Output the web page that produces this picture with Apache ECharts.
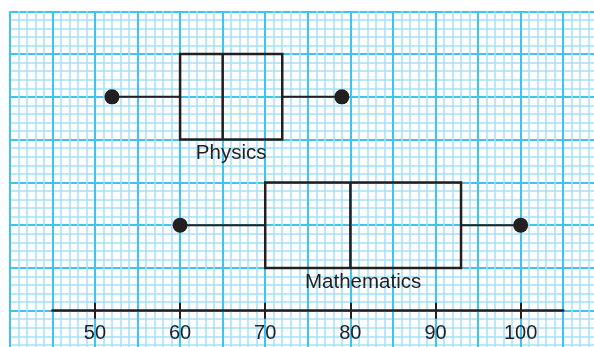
<!DOCTYPE html>
<html>
<head>
<meta charset="utf-8">
<script src="https://cdn.jsdelivr.net/npm/echarts@6/dist/echarts.min.js"></script>
<style>
html,body{margin:0;padding:0;background:#fff;}
#c{width:594px;height:347px;}
</style>
</head>
<body>
<div id="c"></div>
<script>
// ---- data ----
var subjects = ['Physics', 'Mathematics'];
var minimums = [52, 60];
var lowerQuartiles = [60, 70];
var medians = [65, 80];
var upperQuartiles = [72, 93];
var maximums = [79, 100];
var tickLabels = [50, 60, 70, 80, 90, 100];

var INK = '#231f20';
var chart = echarts.init(document.getElementById('c'), null, {renderer: 'canvas'});

var boxData = subjects.map(function (s, i) {
  return [i, minimums[i], lowerQuartiles[i], medians[i], upperQuartiles[i], maximums[i]];
});

function renderBox(params, api) {
  var cat = api.value(0);
  var pMin = api.coord([api.value(1), cat]);
  var pQ1 = api.coord([api.value(2), cat]);
  var pMed = api.coord([api.value(3), cat]);
  var pQ3 = api.coord([api.value(4), cat]);
  var pMax = api.coord([api.value(5), cat]);
  var band = api.size([0, 1])[1];
  var h = band * 2 / 3;
  var cy = pMed[1];
  var top = cy - h / 2, bottom = cy + h / 2;
  var lineStyle = {stroke: INK, lineWidth: 2.5, fill: null};
  var whiskerStyle = {stroke: INK, lineWidth: 2};
  return {
    type: 'group',
    children: [
      {type: 'line', shape: {x1: pMin[0], y1: cy, x2: pQ1[0], y2: cy}, style: whiskerStyle},
      {type: 'line', shape: {x1: pQ3[0], y1: cy, x2: pMax[0], y2: cy}, style: whiskerStyle},
      {type: 'rect', shape: {x: pQ1[0], y: top, width: pQ3[0] - pQ1[0], height: h}, style: lineStyle},
      {type: 'line', shape: {x1: pMed[0], y1: top, x2: pMed[0], y2: bottom}, style: {stroke: INK, lineWidth: 2.5}},
      {type: 'circle', shape: {cx: pMin[0], cy: cy, r: 7.5}, style: {fill: INK}},
      {type: 'circle', shape: {cx: pMax[0], cy: cy, r: 7.5}, style: {fill: INK}},
      {type: 'text', style: {
        text: subjects[params.dataIndex],
        x: (pQ1[0] + pQ3[0]) / 2, y: bottom + 3.5,
        align: 'center', verticalAlign: 'top',
        fontSize: 20.5, fontFamily: 'Liberation Sans, Arial, sans-serif', fill: INK
      }}
    ]
  };
}

var UX = 8.514, UY = 8.554, LEFT = 9.8, TOP = 11.3;

var option = {
  backgroundColor: '#ffffff',
  animation: false,
  grid: [
    {left: LEFT, top: TOP, width: 70 * UX, height: 40 * UY, containLabel: false, outerBoundsMode: 'none'},
    {left: LEFT, top: TOP + 2.5 * UY, width: 70 * UX, height: 30 * UY, containLabel: false, outerBoundsMode: 'none'},
    {left: LEFT + 5 * UX, top: TOP + 35 * UY - 10, width: 60 * UX, height: 10, containLabel: false, outerBoundsMode: 'none'}
  ],
  xAxis: [
    {
      gridIndex: 0, type: 'value', min: 40, max: 110, interval: 5,
      axisLine: {show: false}, axisTick: {show: false}, axisLabel: {show: false},
      splitLine: {show: true, showMinLine: true, lineStyle: {color: '#3ec4ef', width: 2}},
      minorTick: {show: false, splitNumber: 5},
      minorSplitLine: {show: true, lineStyle: {color: '#a7e0f6', width: 1.5}}
    },
    {
      gridIndex: 1, type: 'value', min: 40, max: 110, interval: 5,
      axisLine: {show: false}, axisTick: {show: false}, axisLabel: {show: false}, splitLine: {show: false}
    },
    {
      gridIndex: 2, type: 'value', min: 45, max: 105, interval: 5, position: 'bottom',
      axisLine: {show: true, lineStyle: {color: INK, width: 2.6}},
      axisTick: {show: true, length: 8, inside: false, customValues: tickLabels, lineStyle: {color: INK, width: 2}},
      axisLabel: {show: true, customValues: tickLabels, margin: 13, color: INK, fontSize: 20, fontFamily: 'Liberation Sans, Arial, sans-serif'},
      splitLine: {show: false}
    },
    {
      gridIndex: 2, type: 'value', min: 45, max: 105, interval: 5, position: 'bottom',
      axisLine: {show: false},
      axisTick: {show: true, length: 8, inside: true, customValues: tickLabels, lineStyle: {color: INK, width: 2}},
      axisLabel: {show: false},
      splitLine: {show: false}
    }
  ],
  yAxis: [
    {
      gridIndex: 0, type: 'value', min: 0, max: 40, interval: 5, inverse: true,
      axisLine: {show: false}, axisTick: {show: false}, axisLabel: {show: false},
      splitLine: {show: true, showMinLine: true, lineStyle: {color: '#3ec4ef', width: 2}},
      minorTick: {show: false, splitNumber: 5},
      minorSplitLine: {show: true, lineStyle: {color: '#a7e0f6', width: 1.5}}
    },
    {
      gridIndex: 1, type: 'category', data: subjects, inverse: true,
      axisLine: {show: false}, axisTick: {show: false}, axisLabel: {show: false}, splitLine: {show: false}
    },
    {
      gridIndex: 2, type: 'value', show: false
    }
  ],
  series: [
    {
      type: 'custom', xAxisIndex: 1, yAxisIndex: 1,
      renderItem: renderBox,
      encode: {x: [1, 2, 3, 4, 5], y: 0},
      data: boxData,
      clip: false, silent: true, z: 5
    }
  ]
};
chart.setOption(option);
</script>
</body>
</html>
